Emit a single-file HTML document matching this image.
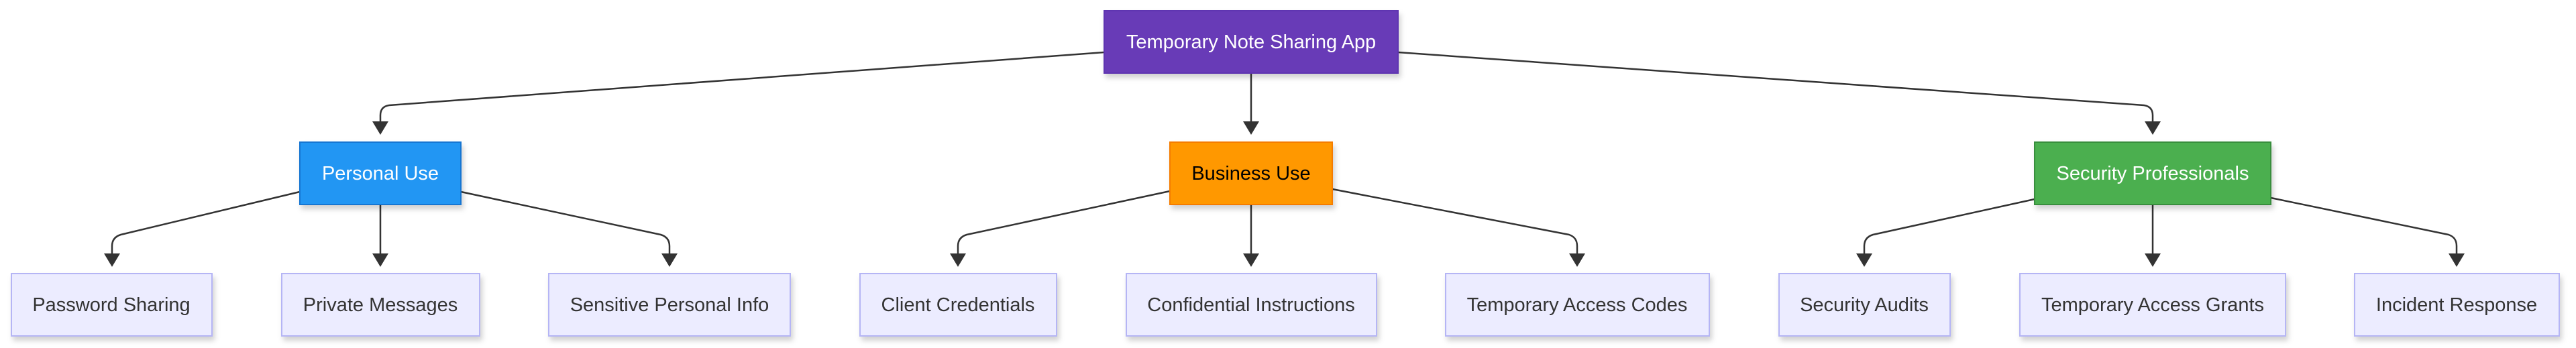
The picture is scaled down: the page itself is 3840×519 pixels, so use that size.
<!DOCTYPE html>
<html><head><meta charset="utf-8"><style>
html,body{margin:0;padding:0;background:#fff;width:3840px;height:519px;overflow:hidden}
svg{display:block}
text{font-family:"Liberation Sans",Arial,sans-serif;font-size:29px;text-anchor:middle;dominant-baseline:central}
</style></head><body>
<svg width="3840" height="519" viewBox="0 0 3840 519" xmlns="http://www.w3.org/2000/svg">
<defs>
<filter id="sh" x="-10%" y="-20%" width="120%" height="150%"><feDropShadow dx="3" dy="6" stdDeviation="4" flood-color="#000" flood-opacity="0.18"/></filter>
</defs>
<g fill="none" stroke="#333" stroke-width="2.5">
<path d="M1646 78 L580 157 Q567 159 567 172 L567 185"/>
<path d="M1865 109 L1865 185"/>
<path d="M2084 78 L3196 157 Q3209 159 3209 172 L3209 185"/>
<path d="M447 286 L180 350 Q167 354 167 367 L167 382"/>
<path d="M567 305 L567 382"/>
<path d="M687 286 L985 350 Q998 354 998 367 L998 382"/>
<path d="M1744 285 L1441 350 Q1428 354 1428 367 L1428 382"/>
<path d="M1865 305 L1865 382"/>
<path d="M1986 282 L2339 350 Q2351 354 2351 367 L2351 382"/>
<path d="M3033 297 L2792 350 Q2779 354 2779 367 L2779 382"/>
<path d="M3209 305 L3209 382"/>
<path d="M3385 295 L3650 350 Q3662 354 3662 367 L3662 382"/>
</g>
<g fill="#333">
<polygon points="555,181 579,181 567,201"/>
<polygon points="1853,181 1877,181 1865,201"/>
<polygon points="3197,181 3221,181 3209,201"/>
<polygon points="155,378 179,378 167,398"/>
<polygon points="555,378 579,378 567,398"/>
<polygon points="986,378 1010,378 998,398"/>
<polygon points="1416,378 1440,378 1428,398"/>
<polygon points="1853,378 1877,378 1865,398"/>
<polygon points="2339,378 2363,378 2351,398"/>
<polygon points="2767,378 2791,378 2779,398"/>
<polygon points="3197,378 3221,378 3209,398"/>
<polygon points="3650,378 3674,378 3662,398"/>
</g>
<g filter="url(#sh)" stroke-width="2">
<rect x="1646" y="16" width="438" height="93" fill="#673ab7" stroke="#5e35b1"/>
<rect x="447" y="212" width="240" height="93" fill="#2196f3" stroke="#1976d2"/>
<rect x="1744" y="212" width="242" height="93" fill="#ff9800" stroke="#f57c00"/>
<rect x="3033" y="212" width="352" height="93" fill="#4caf50" stroke="#388e3c"/>
<g fill="#ececff" stroke="#b5b5f5">
<rect x="17" y="408" width="299" height="93"/>
<rect x="420" y="408" width="295" height="93"/>
<rect x="818" y="408" width="360" height="93"/>
<rect x="1282" y="408" width="293" height="93"/>
<rect x="1679" y="408" width="373" height="93"/>
<rect x="2155" y="408" width="393" height="93"/>
<rect x="2652" y="408" width="255" height="93"/>
<rect x="3011" y="408" width="396" height="93"/>
<rect x="3510" y="408" width="305" height="93"/>
</g>
</g>
<text x="1865" y="63" fill="#fff">Temporary Note Sharing App</text>
<text x="567" y="259" fill="#fff">Personal Use</text>
<text x="1865" y="259" fill="#000">Business Use</text>
<text x="3209" y="259" fill="#fff">Security Professionals</text>
<g fill="#333">
<text x="166" y="455">Password Sharing</text>
<text x="567" y="455">Private Messages</text>
<text x="998" y="455">Sensitive Personal Info</text>
<text x="1428" y="455">Client Credentials</text>
<text x="1865" y="455">Confidential Instructions</text>
<text x="2351" y="455">Temporary Access Codes</text>
<text x="2779" y="455">Security Audits</text>
<text x="3209" y="455">Temporary Access Grants</text>
<text x="3662" y="455">Incident Response</text>
</g>
</svg>
</body></html>
